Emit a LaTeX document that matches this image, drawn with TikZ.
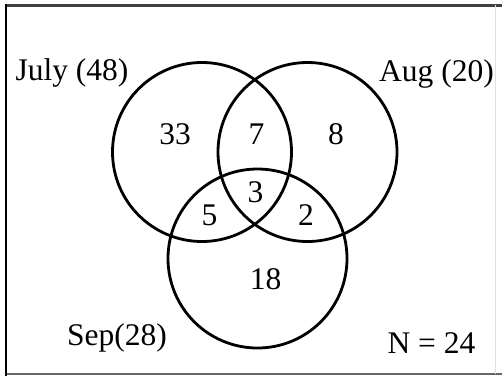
\documentclass[tikz,border=0pt]{standalone}
\usepackage{fontspec}
\setmainfont{Liberation Serif}
\begin{document}
\begin{tikzpicture}[x=1pt,y=-1pt,
  venn/.style={draw=black,line width=2.8pt},
  lbl/.style={anchor=base,inner sep=0pt,font=\fontsize{31.5}{32}\selectfont}]
\useasboundingbox (0,0) rectangle (502,376);
\fill[white] (0,0) rectangle (502,376);
% frame
\draw[line width=3pt,black!75] (6,5) -- (502,5);
\draw[line width=2pt,black!60] (6,373.5) -- (502,373.5);
\draw[line width=1pt,black!12] (495,5) -- (495,373.5);
\draw[line width=2.8pt,black] (6,3.5) -- (6,376);
% circles
\node[venn,circle,minimum size=179pt,inner sep=0pt] (jul) at (202,152) {};
\node[venn,circle,minimum size=179pt,inner sep=0pt] (aug) at (307.5,152) {};
\node[venn,circle,minimum size=179pt,inner sep=0pt] (sep) at (257.5,258.5) {};
% labels
\node[lbl] (tjul) at (72,80) {July (48)};
\node[lbl] (taug) at (436.5,81.5) {Aug (20)};
\node[lbl] (tsep) at (117,345) {Sep(28)};
\node[lbl] (tn) at (431.5,353) {N = 24};
\node[lbl] (a) at (175,144) {33};
\node[lbl] (b) at (256.5,144) {7};
\node[lbl] (c) at (336,144) {8};
\node[lbl] (d) at (255.5,202) {3};
\node[lbl] (e) at (209.5,225) {5};
\node[lbl] (f) at (306,225) {2};
\node[lbl] (g) at (265.5,289) {18};
\end{tikzpicture}
\end{document}
